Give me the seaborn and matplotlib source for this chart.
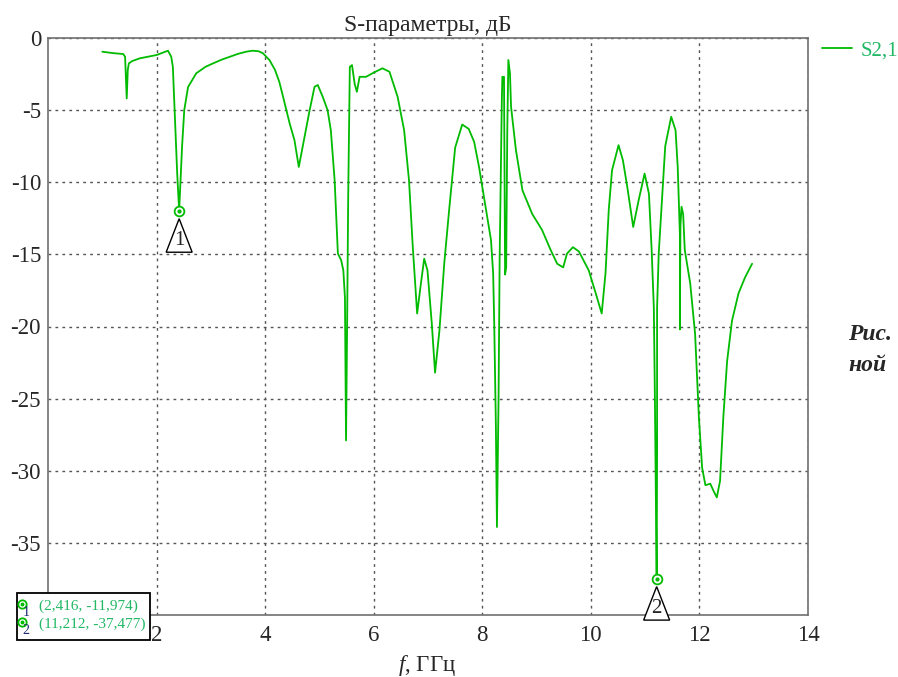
import matplotlib
matplotlib.use("Agg")
import matplotlib.pyplot as plt
import matplotlib.transforms as mtransforms
from matplotlib.patches import Polygon, Rectangle
from matplotlib.lines import Line2D
import seaborn as sns
import pandas as pd

# ---- data ----
freq_ghz = [1.00, 1.20, 1.385, 1.42, 1.45, 1.47, 1.49, 1.55, 1.69, 2.00, 2.21, 2.27,
            2.30, 2.35, 2.38, 2.416, 2.44, 2.47, 2.51, 2.58, 2.73, 2.90, 3.04, 3.20,
            3.35, 3.50, 3.65, 3.77, 3.88, 3.96, 4.08, 4.18, 4.26, 4.33, 4.45, 4.54,
            4.62, 4.69, 4.82, 4.91, 4.97, 5.06, 5.15, 5.21, 5.28, 5.34, 5.40, 5.44,
            5.47, 5.49, 5.51, 5.53, 5.56, 5.60, 5.65, 5.69, 5.74, 5.86, 6.00, 6.16,
            6.29, 6.44, 6.56, 6.65, 6.72, 6.80, 6.87, 6.93, 6.99, 7.07, 7.13, 7.21,
            7.30, 7.39, 7.50, 7.63, 7.75, 7.85, 7.94, 8.06, 8.16, 8.20, 8.22, 8.25,
            8.27, 8.30, 8.32, 8.34, 8.36, 8.37, 8.40, 8.41, 8.42, 8.44, 8.46, 8.48,
            8.51, 8.53, 8.62, 8.74, 8.92, 9.10, 9.26, 9.38, 9.49, 9.56, 9.67, 9.78,
            9.96, 10.09, 10.20, 10.27, 10.33, 10.39, 10.51, 10.59, 10.67, 10.78,
            10.88, 10.99, 11.07, 11.12, 11.16, 11.18, 11.212, 11.22, 11.22, 11.25,
            11.31, 11.37, 11.48, 11.56, 11.60, 11.64, 11.64, 11.65, 11.67, 11.70,
            11.73, 11.83, 11.92, 11.99, 12.05, 12.11, 12.20, 12.26, 12.32, 12.38,
            12.44, 12.51, 12.60, 12.72, 12.84, 12.97]
s21_db = [-0.95, -1.05, -1.11, -1.3, -4.19, -2.2, -1.76, -1.6, -1.41, -1.18, -0.88, -1.3,
          -2.0, -6.6, -9.4, -11.974, -10.0, -7.5, -5.0, -3.4, -2.45, -2.0, -1.76, -1.5,
          -1.3, -1.1, -0.95, -0.88, -0.92, -1.06, -1.53, -2.2, -3.03, -4.07, -5.9, -7.08,
          -8.94, -7.55, -5.0, -3.38, -3.26, -4.07, -5.0, -6.39, -9.86, -14.95, -15.4, -16.1,
          -18.0, -27.9, -20.0, -11.0, -2.0, -1.88, -3.2, -3.73, -2.69, -2.69, -2.4, -2.1,
          -2.34, -4.07, -6.39, -9.86, -14.5, -19.1, -17.0, -15.3, -16.1, -19.8, -23.2, -20.3,
          -15.6, -11.9, -7.6, -6.0, -6.3, -7.2, -8.94, -11.7, -14.0, -16.3, -19.8, -26.8,
          -33.9, -24.9, -15.2, -9.86, -4.3, -2.69, -2.69, -9.0, -16.4, -15.9, -6.6, -1.53,
          -2.45, -4.77, -7.78, -10.56, -12.2, -13.3, -14.7, -15.65, -15.9, -14.95, -14.5, -14.8,
          -16.1, -17.7, -19.1, -16.3, -11.9, -9.17, -7.43, -8.47, -10.3, -13.1,
          -11.25, -9.4, -10.8, -14.7, -18.7, -25.1, -37.477, -28.6, -18.7, -14.95,
          -11.25, -7.5, -5.46, -6.39, -8.94, -13.6, -20.2, -13.0, -11.7, -12.2,
          -14.7, -17.0, -20.5, -26.3, -29.8, -31.0, -30.9, -31.4, -31.85, -30.7,
          -26.3, -22.4, -19.6, -17.7, -16.6, -15.65]

marker_ids = ["1", "2"]
marker_freq = [2.416, 11.212]
marker_db = [-11.974, -37.477]
marker_texts = ["(2,416, -11,974)", "(11,212, -37,477)"]

x_ticks = [2, 4, 6, 8, 10, 12, 14]
y_ticks = [0, -5, -10, -15, -20, -25, -30, -35]

title = "S-параметры, дБ"
series_name = "S2,1"

# ---- style ----
sns.set_style("white")
plt.rcParams["font.family"] = ["Liberation Serif", "DejaVu Serif"]
plt.rcParams["mathtext.fontset"] = "custom"
plt.rcParams["mathtext.it"] = "Liberation Serif:italic"
plt.rcParams["mathtext.rm"] = "Liberation Serif"

W, H = 898, 677
fig = plt.figure(figsize=(W / 100, H / 100), dpi=100)
ax = fig.add_axes([48 / W, 1 - 615 / H, (808 - 48) / W, (615 - 38) / H])

LINE_C = "#00bb00"
TEXT_G = "#22b866"

df = pd.DataFrame({"f": freq_ghz, "s": s21_db})
sns.lineplot(data=df, x="f", y="s", sort=False, estimator=None, color=LINE_C,
             lw=1.3, ax=ax, label=series_name)

ax.set_xlim(0, 14)
ax.set_ylim(-40, 0)
ax.set_xticks(x_ticks)
ax.set_yticks(y_ticks)
ax.set_xticklabels([str(t) for t in x_ticks])
ax.set_yticklabels([str(t) for t in y_ticks])
ax.tick_params(axis="x", length=4, width=1, color="#777777", direction="out",
               labelsize=16.5, pad=3)
ax.tick_params(axis="y", length=0, labelsize=16.5, pad=5)
ax.grid(True, color="#555555", lw=1.0, ls=(0, (2, 3)))
for sp in ax.spines.values():
    sp.set_color("#707070")
    sp.set_linewidth(1.2)
    sp.set_visible(True)
ax.set_xlabel("")
ax.set_ylabel("")
ax.set_title(title, fontsize=17, pad=5)

fig.text(427 / W, 1 - 665 / H, r"$f$, ГГц", fontsize=16.5, ha="center", va="center")

leg = ax.legend(loc="upper left", bbox_to_anchor=(822 / W, 1 - 41 / H),
                bbox_transform=fig.transFigure, frameon=False, fontsize=15,
                handlelength=1.45, handletextpad=0.4, borderpad=0, borderaxespad=0,
                labelcolor=TEXT_G)

# markers with triangles
for mid, mf, md in zip(marker_ids, marker_freq, marker_db):
    ax.plot([mf], [md], marker="o", ms=7, mfc="white", mec=LINE_C, mew=1.3,
            zorder=5, clip_on=False)
    ax.plot([mf], [md], marker="o", ms=2, mfc=LINE_C, mec=LINE_C, zorder=6,
            clip_on=False)
    tr = fig.dpi_scale_trans + mtransforms.ScaledTranslation(mf, md, ax.transData)
    tri = Polygon([[0, -0.08], [-0.13, -0.415], [0.13, -0.415]], closed=True,
                  facecolor="white", edgecolor="black", lw=1.0, transform=tr,
                  zorder=6, clip_on=False)
    ax.add_patch(tri)
    ax.text(0.0, -0.30, mid, transform=tr, ha="center", va="center", fontsize=15,
            zorder=7, clip_on=False)

# marker readout box
box = Rectangle((17 / W, 1 - 640 / H), (150 - 17) / W, (640 - 593) / H,
                transform=fig.transFigure, facecolor="white", edgecolor="black",
                lw=1.3, zorder=10)
fig.patches.append(box)
rows_y = [606, 624]
for mid, txt, yy in zip(marker_ids, marker_texts, rows_y):
    fig.text(39 / W, 1 - yy / H, txt, fontsize=11, color=TEXT_G, ha="left",
             va="center", zorder=11)
    fig.lines.append(Line2D([21.7 / W], [1 - (yy - 2) / H],
                     marker="o", ms=6, mfc="none", mec=LINE_C, mew=1.3,
                     transform=fig.transFigure, zorder=11))
    fig.lines.append(Line2D([21.7 / W], [1 - (yy - 2) / H],
                     marker="o", ms=1.8, mfc=LINE_C, mec=LINE_C,
                     transform=fig.transFigure, zorder=12))
    fig.text(26 / W, 1 - (yy + 7) / H, mid, fontsize=10, color="#1a2a6c",
             ha="center", va="center", zorder=13)

# side caption fragment
fig.text(848 / W, 1 - 335 / H, "Рис.", fontsize=17, fontweight="bold",
         fontstyle="italic", ha="left", va="center")
fig.text(848 / W, 1 - 366 / H, "ной", fontsize=17, fontweight="bold",
         fontstyle="italic", ha="left", va="center")

fig.savefig("out.png", dpi=100)
